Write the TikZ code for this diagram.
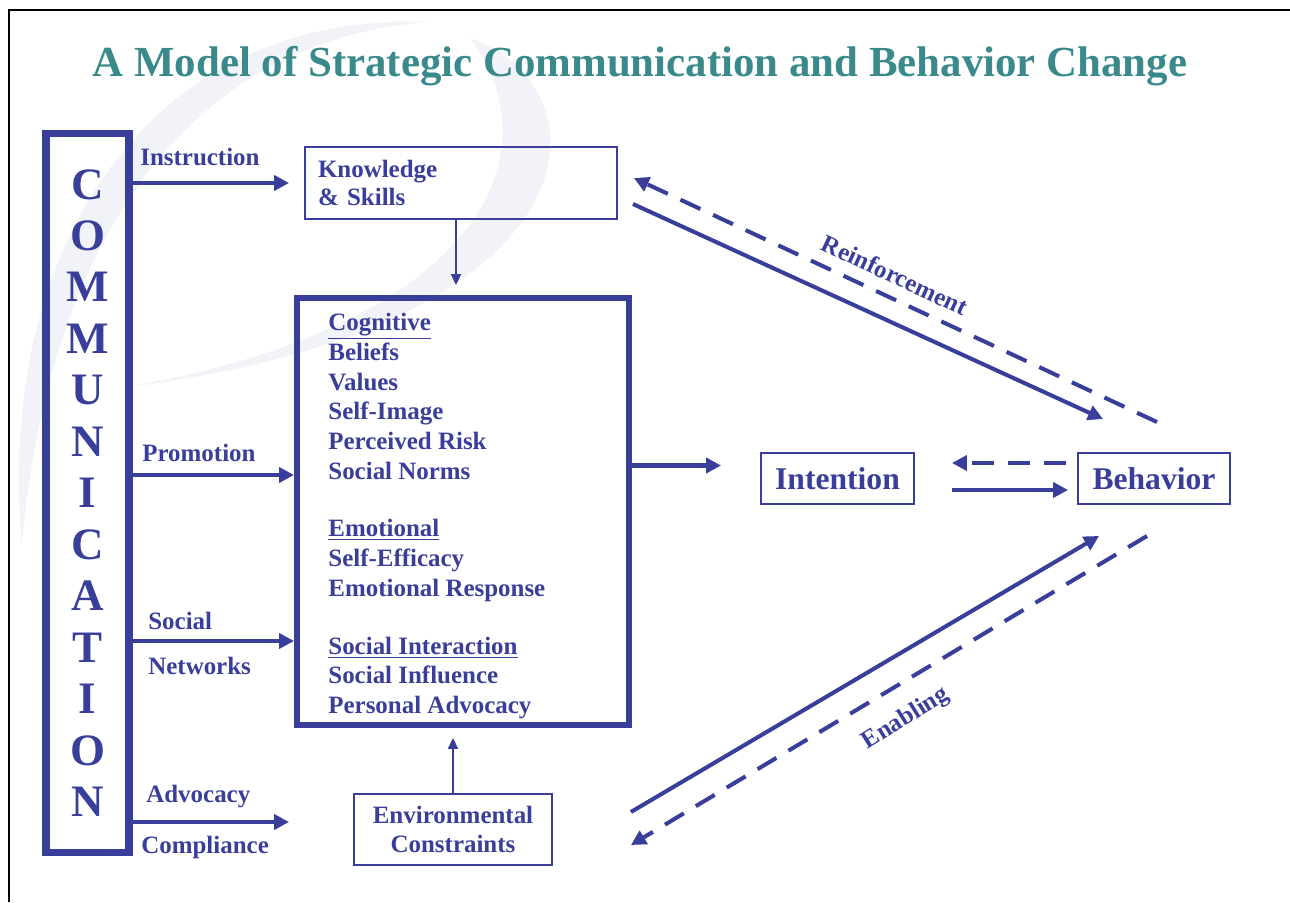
\documentclass[tikz,border=0pt]{standalone}
\usepackage{fontspec}
\setmainfont{Liberation Serif}
\usetikzlibrary{arrows.meta,positioning,calc}
\definecolor{modelblue}{RGB}{58,62,155}
\definecolor{titleteal}{RGB}{58,138,140}
\definecolor{swirlgray}{RGB}{241,243,248}

\begin{document}
\begin{tikzpicture}[
  x=0.02cm, y=-0.02cm,
  font=\bfseries\fontsize{14.2}{17}\selectfont,
  line/.style={-{Triangle[length=0.3cm,width=0.3cm]}, line width=2.3pt, draw=modelblue},
  thinline/.style={-{Triangle[length=0.22cm,width=0.2cm]}, line width=1.1pt, draw=modelblue},
  dashline/.style={line, dash pattern=on 0.44cm off 0.28cm},
  lbl/.style={text=modelblue, anchor=west, inner sep=0pt},
  commbox/.style={
    draw=modelblue, line width=4pt, text=modelblue, align=center,
    minimum width=1.66cm, minimum height=14.4cm,
    font=\bfseries\fontsize{25.6}{29.3}\selectfont
  },
  kbox/.style={
    draw=modelblue, line width=1.1pt, text=modelblue,
    font=\bfseries\fontsize{14.2}{16.2}\selectfont
  },
  cogbox/.style={
    draw=modelblue, line width=3.4pt,
    minimum width=6.64cm, minimum height=8.54cm
  },
  cogtext/.style={
    text=modelblue, align=left, anchor=north west, inner sep=0pt,
    font=\bfseries\fontsize{14.2}{16.9}\selectfont
  },
  endbox/.style={
    draw=modelblue, line width=1.1pt, text=modelblue,
    minimum width=3.06cm, minimum height=1.02cm,
    font=\bfseries\fontsize{18}{20}\selectfont
  }
]
\useasboundingbox (0,0) rectangle (1290,902);

% background swirl
\fill[swirlgray] (22,545) .. controls (-5,260) and (140,10) .. (430,22)
  .. controls (170,40) and (45,270) .. cycle;
\fill[swirlgray] (470,38) .. controls (615,90) and (600,330) .. (120,388)
  .. controls (470,330) and (560,160) .. cycle;

% frame
\draw[line width=1.6pt] (9,902) -- (9,10) -- (1290,10);

% Title
\node[text=titleteal, font=\bfseries\fontsize{24.4}{28}\selectfont] (title) at (640,66)
  {A Model of Strategic Communication and Behavior Change};

% Communication column
\node[commbox] (comm) at (87.5,493)
  {C\\O\\M\\M\\U\\N\\I\\C\\A\\T\\I\\O\\N};

% Boxes
\node[kbox, minimum width=6.24cm, minimum height=1.44cm, inner xsep=0.26cm,
  text width=5.72cm, align=left] (ks) at (461,183) {Knowledge\\\& Skills};
\node[cogbox] (cog) at (463,511.5) {};
\node[cogtext, below right=0.36cm and 0.68cm of cog.north west] (cogtxt) {%
  \underline{Cognitive}\\Beliefs\\Values\\Self-Image\\Perceived Risk\\Social Norms\\[16pt]
  \underline{Emotional}\\Self-Efficacy\\Emotional Response\\[16pt]
  \underline{Social Interaction}\\Social Influence\\Personal Advocacy};
\node[kbox, minimum width=3.96cm, minimum height=1.42cm, align=center,
  font=\bfseries\fontsize{14.2}{16.5}\selectfont] (env) at (453,829.5)
  {Environmental\\Constraints};
\node[endbox] (int) at (837.5,478.5) {Intention};
\node[endbox, minimum width=3.04cm] (beh) at (1154,478.5) {Behavior};

% Channel labels
\node[lbl] (instr) at (140,157) {Instruction};
\node[lbl] (promo) at (142,453) {Promotion};
\node[lbl] (soc) at (148,621) {Social};
\node[lbl] (netw) at (148,666) {Networks};
\node[lbl] (advo) at (146,797) {Advocacy};
\node[lbl] (compl) at (141,847) {Compliance};

% Channel arrows
\coordinate (toks) at ([xshift=-0.3cm]ks.west);
\coordinate (topromo) at ([yshift=0.73cm]cog.west);
\coordinate (tosoc) at ([yshift=-2.59cm]cog.west);
\coordinate (toadvo) at ([xshift=-1.28cm,yshift=0.15cm]env.west);
\draw[line] (comm.east |- toks) -- (toks);
\draw[line] (comm.east |- topromo) -- (topromo);
\draw[line] (comm.east |- tosoc) -- (tosoc);
\draw[line] (comm.east |- toadvo) -- (toadvo);

% Vertical flows
\draw[thinline, shorten >=0.2cm] ([xshift=-0.1cm]ks.south) -- ([xshift=-0.1cm]ks.south |- cog.north);
\draw[thinline, shorten >=0.2cm] (env.north) -- (env.north |- cog.south);

% To intention and behavior
\coordinate (toint) at ([xshift=-0.78cm,yshift=0.26cm]int.west);
\draw[line] (cog.east |- toint) -- (toint);
\draw[dashline] ([xshift=-0.22cm,yshift=0.31cm]beh.west) -- ([xshift=0.74cm,yshift=0.31cm]int.east);
\draw[line] ([xshift=0.74cm,yshift=-0.23cm]int.east) -- ([xshift=-0.18cm,yshift=-0.23cm]beh.west);

% Reinforcement
\draw[line] ([xshift=0.3cm,yshift=-0.42cm]ks.east) -- ([xshift=0.52cm,yshift=0.66cm]beh.north west);
\draw[dashline] ([xshift=0.06cm,yshift=0.6cm]beh.north) -- ([xshift=0.32cm,yshift=0.1cm]ks.east);
\node[text=modelblue, rotate=-25] (reinf) at (895,275) {Reinforcement};

% Enabling
\draw[line] ([xshift=1.56cm,yshift=0.35cm]env.east) -- ([xshift=0.44cm,yshift=-0.62cm]beh.south west);
\draw[dashline] ([xshift=-0.14cm,yshift=-0.62cm]beh.south) -- ([xshift=1.56cm,yshift=-0.31cm]env.east);
\node[text=modelblue, rotate=32] (enab) at (906,719) {Enabling};

\end{tikzpicture}
\end{document}
